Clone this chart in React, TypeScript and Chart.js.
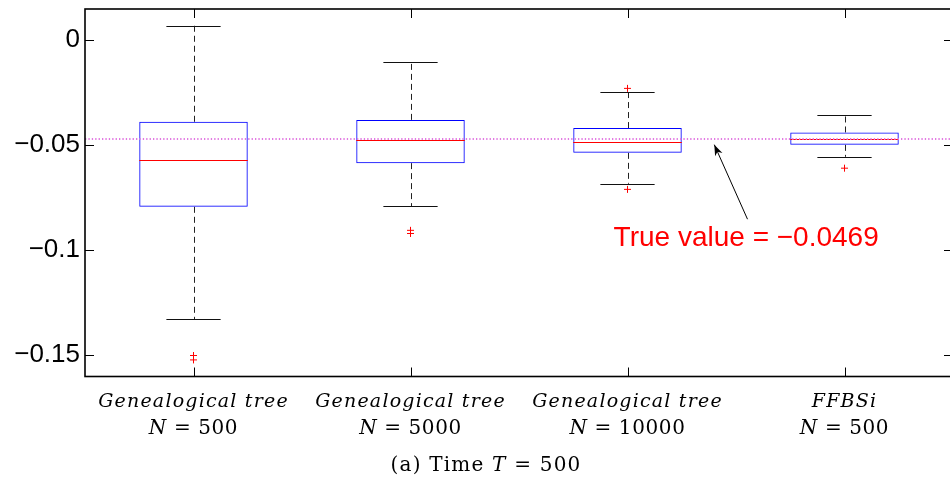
import React, { useEffect, useRef } from 'react';
import { Chart, registerables } from 'chart.js';

Chart.register(...registerables);

// ---- data ----
const METHODS = ['Genealogical tree', 'Genealogical tree', 'Genealogical tree', 'FFBSi'];
const SAMPLE_SIZES = ['500', '5000', '10000', '500'];
const WHISKER_HIGH = [0.007, -0.0104, -0.0248, -0.0358];
const Q3 = [-0.0388, -0.0379, -0.0418, -0.0439];
const MEDIAN = [-0.0571, -0.0475, -0.0485, -0.0471];
const Q1 = [-0.0793, -0.0585, -0.0536, -0.0498];
const WHISKER_LOW = [-0.1328, -0.079, -0.0683, -0.0555];
const OUTLIERS = [[-0.1501, -0.1522], [-0.0905, -0.092], [-0.0229, -0.071], [-0.0609]];
const TRUE_VALUE = -0.0469;
const Y_TICKS = [-0.15, -0.1, -0.05, 0];
const Y_MIN = -0.1601;
const Y_MAX = 0.0149;
const CAPTION = ['(a) Time ', 'T', ' = 500'];
const ANNOTATION_TEXT = 'True value = \u22120.0469';
// annotation anchor points in (category index, value) coordinates
const ARROW_FROM = [2.553, -0.0852];
const ARROW_TO = [2.4, -0.0497];
const TEXT_AT = [1.936, -0.0978];

const LABELS = METHODS.map((m, i) => `${m} N = ${SAMPLE_SIZES[i]}`);

const fmtTick = (v: number) => (Math.abs(v) < 1e-9 ? '0' : '\u2212' + String(Math.abs(v)));

function drawParts(ctx: CanvasRenderingContext2D, parts: { t: string; it: boolean }[], cx: number, base: number, size: number, spacing: number) {
  const fam = '"DejaVu Serif", serif';
  const widths = parts.map(p => {
    ctx.font = `${p.it ? 'italic ' : ''}${size}px ${fam}`;
    (ctx as any).letterSpacing = spacing + 'px';
    return ctx.measureText(p.t).width;
  });
  const total = widths.reduce((a, b) => a + b, 0);
  let x = cx - total / 2;
  ctx.textAlign = 'left';
  ctx.textBaseline = 'alphabetic';
  parts.forEach((p, i) => {
    ctx.font = `${p.it ? 'italic ' : ''}${size}px ${fam}`;
    (ctx as any).letterSpacing = spacing + 'px';
    ctx.fillText(p.t, x, base);
    x += widths[i];
  });
  (ctx as any).letterSpacing = '0px';
}

const boxPlugin = {
  id: 'boxExtras',
  beforeDatasetsDraw(chart: any) {
    const { ctx, scales } = chart;
    const x = scales.x, y = scales.y;
    ctx.save();
    // whiskers
    for (let i = 0; i < LABELS.length; i++) {
      const cx = Math.round(x.getPixelForValue(i)) + 0.5;
      ctx.strokeStyle = '#222';
      ctx.lineWidth = 1;
      ctx.setLineDash([6, 4]);
      ctx.beginPath();
      ctx.moveTo(cx, y.getPixelForValue(Q3[i]));
      ctx.lineTo(cx, y.getPixelForValue(WHISKER_HIGH[i]));
      ctx.moveTo(cx, y.getPixelForValue(Q1[i]));
      ctx.lineTo(cx, y.getPixelForValue(WHISKER_LOW[i]));
      ctx.stroke();
      ctx.setLineDash([]);
      ctx.strokeStyle = '#111';
      const l = x.getPixelForValue(i - 0.125), r = x.getPixelForValue(i + 0.125);
      ctx.beginPath();
      const yh = Math.round(y.getPixelForValue(WHISKER_HIGH[i])) + 0.5;
      const yl = Math.round(y.getPixelForValue(WHISKER_LOW[i])) + 0.5;
      ctx.moveTo(l, yh); ctx.lineTo(r, yh);
      ctx.moveTo(l, yl); ctx.lineTo(r, yl);
      ctx.stroke();
    }
    ctx.restore();
  },
  afterDatasetsDraw(chart: any) {
    const { ctx, scales, chartArea: a } = chart;
    const x = scales.x, y = scales.y;
    ctx.save();
    // medians
    ctx.strokeStyle = '#ff0000';
    ctx.lineWidth = 1;
    for (let i = 0; i < LABELS.length; i++) {
      const ym = Math.round(y.getPixelForValue(MEDIAN[i])) + 0.5;
      ctx.beginPath();
      ctx.moveTo(x.getPixelForValue(i - 0.25), ym);
      ctx.lineTo(x.getPixelForValue(i + 0.25), ym);
      ctx.stroke();
    }
    // true value dotted line
    const yt = Math.round(y.getPixelForValue(TRUE_VALUE));
    ctx.strokeStyle = '#e27ae2';
    ctx.lineWidth = 2;
    ctx.setLineDash([1.3, 2.1]);
    ctx.beginPath();
    ctx.moveTo(a.left, yt);
    ctx.lineTo(a.right, yt);
    ctx.stroke();
    ctx.setLineDash([]);
    // frame
    ctx.strokeStyle = '#000';
    ctx.lineWidth = 1.6;
    ctx.strokeRect(a.left, a.top, a.right - a.left, a.bottom - a.top);
    // inner ticks
    ctx.lineWidth = 1;
    const tl = 9;
    Y_TICKS.forEach(v => {
      const py = Math.round(y.getPixelForValue(v)) + 0.5;
      ctx.beginPath();
      ctx.moveTo(a.left, py); ctx.lineTo(a.left + tl, py);
      ctx.moveTo(a.right, py); ctx.lineTo(a.right - tl, py);
      ctx.stroke();
    });
    for (let i = 0; i < LABELS.length; i++) {
      const px = Math.round(x.getPixelForValue(i)) + 0.5;
      ctx.beginPath();
      ctx.moveTo(px, a.bottom); ctx.lineTo(px, a.bottom - tl);
      ctx.moveTo(px, a.top); ctx.lineTo(px, a.top + tl);
      ctx.stroke();
    }
    // arrow
    const fx = x.getPixelForValue(ARROW_FROM[0]), fy = y.getPixelForValue(ARROW_FROM[1]);
    const tx = x.getPixelForValue(ARROW_TO[0]), ty = y.getPixelForValue(ARROW_TO[1]);
    ctx.strokeStyle = '#000';
    ctx.fillStyle = '#000';
    ctx.lineWidth = 1;
    ctx.beginPath();
    ctx.moveTo(fx, fy); ctx.lineTo(tx, ty);
    ctx.stroke();
    const ang = Math.atan2(ty - fy, tx - fx);
    const hl = 11, hw = 4;
    ctx.beginPath();
    ctx.moveTo(tx, ty);
    ctx.lineTo(tx - hl * Math.cos(ang) + hw * Math.sin(ang), ty - hl * Math.sin(ang) - hw * Math.cos(ang));
    ctx.lineTo(tx - hl * 0.7 * Math.cos(ang), ty - hl * 0.7 * Math.sin(ang));
    ctx.lineTo(tx - hl * Math.cos(ang) - hw * Math.sin(ang), ty - hl * Math.sin(ang) + hw * Math.cos(ang));
    ctx.closePath();
    ctx.fill();
    // annotation text
    ctx.fillStyle = '#ff0000';
    ctx.font = '28px "Liberation Sans", Arial, sans-serif';
    ctx.textAlign = 'left';
    ctx.textBaseline = 'alphabetic';
    ctx.fillText(ANNOTATION_TEXT, x.getPixelForValue(TEXT_AT[0]), y.getPixelForValue(TEXT_AT[1]));
    // category labels
    ctx.fillStyle = '#000';
    for (let i = 0; i < LABELS.length; i++) {
      const cx = x.getPixelForValue(i);
      drawParts(ctx, [{ t: METHODS[i], it: true }], cx, a.bottom + 30, 19, 1.2);
      drawParts(ctx, [{ t: 'N', it: true }, { t: ' = ' + SAMPLE_SIZES[i], it: false }], cx, a.bottom + 57, 20, 0.6);
    }
    // caption
    drawParts(ctx, [{ t: CAPTION[0], it: false }, { t: CAPTION[1], it: true }, { t: CAPTION[2], it: false }], 486, a.bottom + 94, 20, 1.2);
    ctx.restore();
  },
};

export default function App() {
  const ref = useRef<HTMLCanvasElement | null>(null);
  useEffect(() => {
    if (!ref.current) return;
    const outlierData: { x: string; y: number }[] = [];
    OUTLIERS.forEach((arr, i) => arr.forEach(v => outlierData.push({ x: LABELS[i], y: v })));
    const chart = new Chart(ref.current, {
      type: 'bar',
      data: {
        labels: LABELS,
        datasets: [
          {
            type: 'bar',
            data: Q1.map((q, i) => [q, Q3[i]]) as any,
            backgroundColor: 'rgba(0,0,0,0)',
            borderColor: '#0000ff',
            borderWidth: 1,
            borderSkipped: false,
            barPercentage: 0.5,
            categoryPercentage: 1,
          },
          {
            type: 'line',
            data: outlierData as any,
            showLine: false,
            pointStyle: 'cross',
            pointRadius: 3.5,
            pointBorderColor: '#ff0000',
            pointBorderWidth: 1,
            pointBackgroundColor: '#ff0000',
          } as any,
        ],
      },
      options: {
        animation: false,
        responsive: false,
        maintainAspectRatio: false,
        layout: { padding: { top: 9, right: 0, bottom: 0, left: 0 } },
        plugins: { legend: { display: false }, tooltip: { enabled: false } },
        scales: {
          x: {
            type: 'category',
            offset: true,
            grid: { display: false },
            border: { display: false },
            ticks: { display: false },
            afterFit: (s: any) => { s.height = 103.5; s.paddingLeft = 0; s.paddingRight = 0; },
          },
          y: {
            min: Y_MIN,
            max: Y_MAX,
            grid: { display: false, drawTicks: false },
            border: { display: false },
            afterBuildTicks: (s: any) => { s.ticks = Y_TICKS.map(v => ({ value: v })); },
            afterFit: (s: any) => { s.width = 85; s.paddingTop = 0; s.paddingBottom = 0; },
            ticks: {
              padding: 5,
              color: '#000',
              font: { family: '"Liberation Sans", Arial, sans-serif', size: 26 },
              callback: (v: any) => fmtTick(Number(v)),
            },
          },
        },
      },
      plugins: [boxPlugin],
    });
    return () => chart.destroy();
  }, []);
  return (
    <div style={{ position: 'fixed', left: 0, top: 0, width: 950, height: 480, overflow: 'hidden', background: '#fff' }}>
      <canvas ref={ref} width={958} height={480} style={{ display: 'block' }} />
    </div>
  );
}
